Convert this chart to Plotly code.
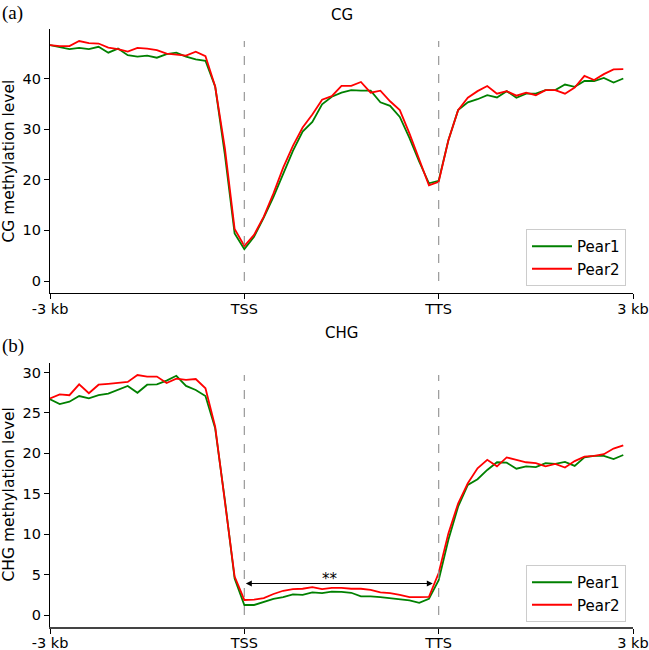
import plotly.graph_objects as go
from plotly.subplots import make_subplots

# ---------------- data ----------------
tick_positions = [0, 20, 40, 60]
tick_labels = ["-3 kb", "TSS", "TTS", "3 kb"]
series_names = ["Pear1", "Pear2"]

cg_pear1 = [46.6, 46.2, 45.8, 46.05, 45.8, 46.25, 45.1, 45.9, 44.6, 44.3,
            44.5, 44.1, 44.8, 45.1, 44.3, 43.75, 43.5, 38.4, 24.9, 9.4,
            6.3, 8.75, 12.5, 16.6, 21.25, 25.7, 29.5, 31.4, 34.9, 36.4,
            37.2, 37.7, 37.6, 37.6, 35.3, 34.6, 32.4, 28.2, 23.55, 19.3,
            19.8, 27.8, 33.75, 35.3, 35.9, 36.7, 36.25, 37.5, 36.2, 37.0,
            37.0, 37.7, 37.7, 38.8, 38.35, 39.5, 39.5, 40.1, 39.2, 40.0]
cg_pear2 = [46.6, 46.4, 46.4, 47.4, 47.0, 46.9, 46.1, 45.8, 45.3, 46.05,
            45.9, 45.6, 44.9, 44.7, 44.5, 45.3, 44.4, 38.4, 26.2, 10.3,
            6.9, 9.1, 12.7, 17.3, 22.4, 26.7, 30.3, 32.9, 35.8, 36.5,
            38.55, 38.55, 39.3, 37.2, 37.6, 35.5, 33.75, 29.1, 24.2, 18.9,
            19.6, 27.8, 33.75, 36.2, 37.5, 38.5, 37.0, 37.5, 36.6, 37.2,
            36.7, 37.7, 37.7, 37.0, 38.2, 40.5, 39.7, 40.85, 41.8, 41.85]

chg_pear1 = [26.7, 26.1, 26.4, 27.1, 26.8, 27.2, 27.4, 27.9, 28.35, 27.5,
             28.5, 28.55, 29.0, 29.6, 28.35, 27.85, 27.1, 23.1, 14.2, 4.5,
             1.24, 1.24, 1.6, 2.0, 2.2, 2.55, 2.5, 2.8, 2.7, 2.9,
             2.85, 2.75, 2.3, 2.3, 2.2, 2.05, 1.95, 1.8, 1.5, 2.0,
             4.3, 9.3, 13.4, 16.1, 16.8, 17.95, 18.9, 18.85, 18.1, 18.4,
             18.3, 18.8, 18.7, 18.95, 18.45, 19.5, 19.7, 19.7, 19.3, 19.8]
chg_pear2 = [26.8, 27.3, 27.2, 28.55, 27.45, 28.5, 28.6, 28.75, 28.85, 29.7,
             29.5, 29.5, 28.7, 29.25, 29.1, 29.2, 28.05, 23.3, 13.8, 4.75,
             1.86, 1.9, 2.1, 2.6, 3.0, 3.2, 3.25, 3.45, 3.2, 3.35,
             3.35, 3.25, 3.25, 3.1, 2.8, 2.7, 2.5, 2.2, 2.2, 2.25,
             5.2, 10.1, 13.8, 16.3, 18.15, 19.2, 18.4, 19.5, 19.2, 18.9,
             18.8, 18.4, 18.7, 18.25, 19.05, 19.6, 19.7, 19.9, 20.6, 21.0]

panel_titles = ["CG", "CHG"]
panel_letters = ["(a)", "(b)"]
y_titles = ["CG methylation level", "CHG methylation level"]
cg_ticks = [0, 10, 20, 30, 40]
chg_ticks = [0, 5, 10, 15, 20, 25, 30]

# significance bracket in CHG panel (x in bin units, y in data units)
sig_x0, sig_x1, sig_y, sig_text, sig_label_x = 20, 39.4, 3.9, "**", 28.8

# ---------------- style ----------------
W, H = 649, 650
PLOT_L, PLOT_R, PLOT_T, PLOT_B = 50, 633, 29, 627   # page pixels
ML, MR, MT, MB = PLOT_L, W - PLOT_R, PLOT_T, H - PLOT_B
FONT = "DejaVu Sans"
FS = 15
TICK_FS = 14.5
colors = ["green", "red"]

plot_h = PLOT_B - PLOT_T
plot_w = PLOT_R - PLOT_L
top_bottom_px = 293  # bottom of upper axes
bot_top_px = 363     # top of lower axes


def px_to_paper_y(py):
    return (PLOT_B - py) / plot_h


def px_to_paper_x(px):
    return (px - PLOT_L) / plot_w


dom_top = [px_to_paper_y(top_bottom_px), 1.0]
dom_bot = [0.0, px_to_paper_y(bot_top_px)]

fig = make_subplots(rows=2, cols=1)

panels = [
    (cg_pear1, cg_pear2, cg_ticks, 1, "legend"),
    (chg_pear1, chg_pear2, chg_ticks, 2, "legend2"),
]

for p1, p2, yt, row, leg in panels:
    xs = list(range(len(p1)))
    for vals, name, col in zip([p1, p2], series_names, colors):
        fig.add_trace(go.Scatter(x=xs, y=vals, mode="lines", name=name,
                                 line=dict(color=col, width=1.8),
                                 legend=leg), row=row, col=1)
    ymax = max(max(p1), max(p2))
    lo, hi = 0, ymax
    pad = 0.05 * (hi - lo)
    yref = "y" if row == 1 else "y2"
    xref = "x" if row == 1 else "x2"
    for tp in tick_positions[1:3]:
        fig.add_shape(type="line", xref=xref, yref=yref, x0=tp, x1=tp,
                      y0=0, y1=ymax,
                      line=dict(color="#999999", width=1.2, dash="dash"))
    fig.update_yaxes(row=row, col=1, range=[lo - pad, hi + pad],
                     tickvals=yt, ticktext=[str(v) for v in yt],
                     showline=True, linecolor="black", linewidth=1.2,
                     ticks="outside", ticklen=5, tickwidth=1.2,
                     tickcolor="black", showgrid=False, zeroline=False,
                     automargin=False, ticklabeloverflow="allow",
                     tickfont=dict(family=FONT, size=TICK_FS, color="black"))
    fig.update_xaxes(row=row, col=1, range=[tick_positions[0], tick_positions[-1]],
                     tickvals=tick_positions, ticktext=tick_labels,
                     showline=True, linecolor="black" if row == 1 else "#444444",
                     linewidth=1.2 if row == 1 else 1.8,
                     ticks="outside", ticklen=5, tickwidth=1.2,
                     tickcolor="black", showgrid=False, zeroline=False,
                     automargin=False, ticklabeloverflow="allow",
                     ticklabelstandoff=-3,
                     tickfont=dict(family=FONT, size=TICK_FS, color="black"))

fig.update_layout(yaxis=dict(domain=dom_top), yaxis2=dict(domain=dom_bot))

# significance arrow
fig.add_annotation(x=sig_x1, y=sig_y, ax=sig_x0, ay=sig_y, xref="x2", yref="y2",
                   axref="x2", ayref="y2", text="", showarrow=True,
                   arrowside="end+start", arrowhead=2, arrowsize=1,
                   arrowwidth=1.2, arrowcolor="black")
fig.add_annotation(x=sig_label_x, y=sig_y, xref="x2", yref="y2",
                   text=sig_text, showarrow=False, yanchor="bottom", yshift=-7,
                   font=dict(family=FONT, size=FS, color="black"))

# titles, panel letters, y-titles
title_px = [15, 333]
letter_px = [13, 346]
for i in range(2):
    fig.add_annotation(x=0.5, y=px_to_paper_y(title_px[i]), xref="paper",
                       yref="paper", text=panel_titles[i], showarrow=False,
                       xanchor="center", yanchor="middle",
                       font=dict(family=FONT, size=FS, color="black"))
    fig.add_annotation(x=px_to_paper_x(0), y=px_to_paper_y(letter_px[i]),
                       xref="paper", yref="paper", text=panel_letters[i],
                       showarrow=False, xanchor="left", yanchor="middle",
                       font=dict(family="Liberation Serif", size=19,
                                 color="black"))
    dom = dom_top if i == 0 else dom_bot
    fig.add_annotation(x=px_to_paper_x(8.5), y=(dom[0] + dom[1]) / 2,
                       xref="paper", yref="paper", text=y_titles[i],
                       showarrow=False, textangle=-90, xanchor="center",
                       yanchor="middle",
                       font=dict(family=FONT, size=15.5, color="black"))

legend_style = dict(xref="paper", yref="paper", xanchor="right",
                    yanchor="bottom", bgcolor="white", bordercolor="#cccccc",
                    borderwidth=1, font=dict(family=FONT, size=FS,
                                             color="black"),
                    itemwidth=40, tracegroupgap=0)
fig.update_layout(
    width=W, height=H,
    margin=dict(l=ML, r=MR, t=MT, b=MB),
    paper_bgcolor="white", plot_bgcolor="white",
    legend=dict(x=px_to_paper_x(626), y=px_to_paper_y(286), **legend_style),
    legend2=dict(x=px_to_paper_x(626), y=px_to_paper_y(622), **legend_style),
    showlegend=True,
)

# remove the browser's default 8px page margin so the figure fills the window
fig.write_html("out.html", config={"displayModeBar": False},
               post_script="document.body.style.margin='0';")
